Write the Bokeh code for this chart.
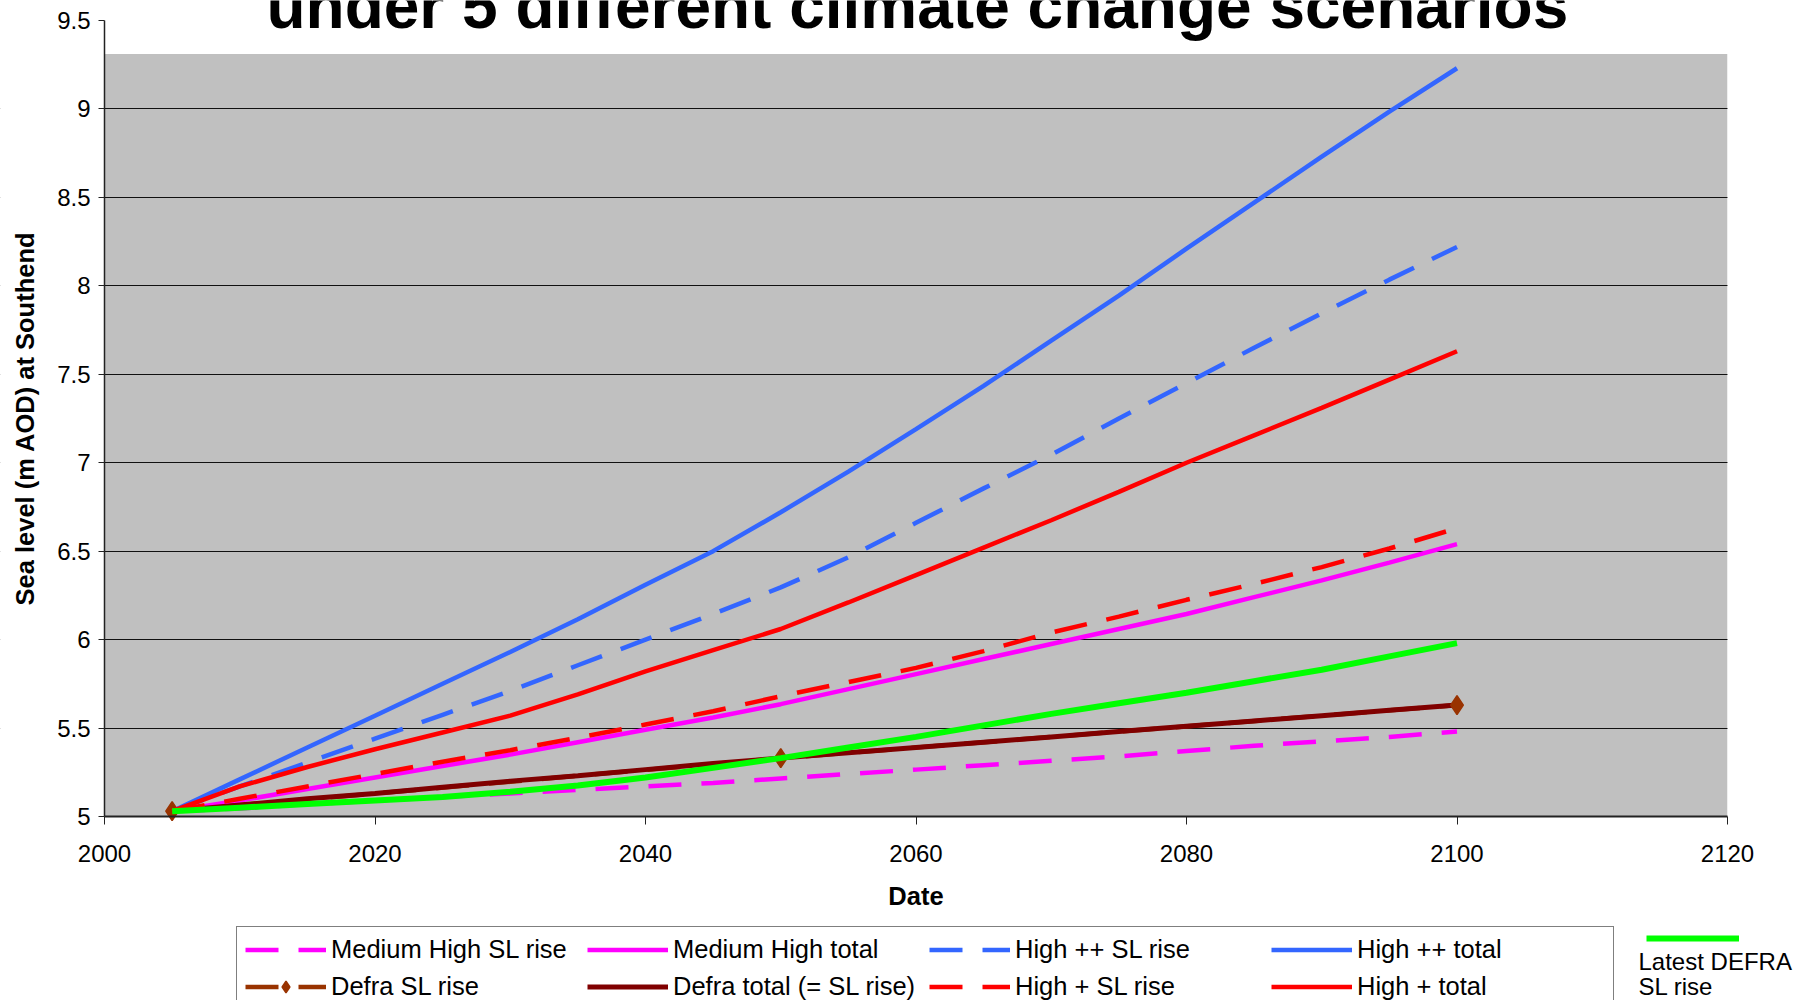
from bokeh.plotting import figure
from bokeh.models import (Range1d, FixedTicker, NumeralTickFormatter, BoxAnnotation,
                          Legend, LegendItem, Label)
from bokeh.embed import file_html
from bokeh.resources import INLINE

# ---------------- data ----------------
years = [2005, 2010, 2015, 2020, 2025, 2030, 2035, 2040, 2045, 2050,
         2055, 2060, 2065, 2070, 2075, 2080, 2085, 2090, 2095, 2100]
medium_high_sl_rise = [5.03, 5.045, 5.07, 5.09, 5.11, 5.13, 5.15, 5.17, 5.19, 5.215,
                       5.24, 5.265, 5.29, 5.315, 5.34, 5.37, 5.40, 5.425, 5.45, 5.48]
medium_high_total = [5.03, 5.09, 5.155, 5.22, 5.285, 5.35, 5.42, 5.49, 5.56, 5.635,
                     5.72, 5.805, 5.89, 5.975, 6.06, 6.145, 6.24, 6.335, 6.435, 6.54]
high_pp_sl_rise = [5.03, 5.17, 5.305, 5.44, 5.575, 5.71, 5.855, 6.00, 6.145, 6.295,
                   6.465, 6.66, 6.855, 7.045, 7.25, 7.45, 7.65, 7.845, 8.035, 8.22]
high_pp_total = [5.03, 5.21, 5.39, 5.57, 5.75, 5.93, 6.115, 6.31, 6.50, 6.72,
                 6.95, 7.19, 7.435, 7.69, 7.945, 8.21, 8.47, 8.73, 8.985, 9.23]
defra_years = [2005, 2050, 2100]
defra_sl_rise = [5.03, 5.33, 5.63]
defra_total = [5.03, 5.065, 5.10, 5.13, 5.165, 5.20, 5.23, 5.265, 5.30, 5.33,
               5.36, 5.39, 5.42, 5.45, 5.48, 5.51, 5.54, 5.57, 5.60, 5.63]
high_p_sl_rise = [5.03, 5.10, 5.17, 5.24, 5.31, 5.375, 5.445, 5.52, 5.595, 5.68,
                  5.76, 5.84, 5.935, 6.04, 6.13, 6.225, 6.315, 6.41, 6.515, 6.63]
high_p_total = [5.03, 5.17, 5.28, 5.38, 5.475, 5.57, 5.69, 5.82, 5.94, 6.06,
                6.21, 6.365, 6.52, 6.675, 6.835, 7.00, 7.155, 7.31, 7.47, 7.63]
latest_defra_sl_rise = [5.03, 5.05, 5.07, 5.09, 5.11, 5.14, 5.175, 5.22, 5.275, 5.33,
                        5.39, 5.45, 5.515, 5.58, 5.64, 5.70, 5.765, 5.83, 5.905, 5.98]

x_ticks = [2000, 2020, 2040, 2060, 2080, 2100, 2120]
y_ticks = [5, 5.5, 6, 6.5, 7, 7.5, 8, 8.5, 9, 9.5]

title_text = "under 5 different climate change scenarios"
x_label = "Date"
y_label = "Sea level (m AOD) at Southend"

FONT = "Liberation Sans"
MAGENTA = "#FF00FF"
BLUE = "#3366FF"
RED = "#FF0000"
DARKRED = "#800000"
BROWN = "#993300"
GREEN = "#00FF00"
DASH = "33 20"

# ---------------- layout (pixels on the canvas) ----------------
W, H = 1804, 1000
AX_LEFT, AX_RIGHT, AX_TOP, AX_BOTTOM = 104, 1727, 20, 816   # where 2000/2120 and 9.5/5 lie
X0, X1 = x_ticks[0], x_ticks[-1]
Y0, Y1 = y_ticks[0], y_ticks[-1]
px_x = (AX_RIGHT - AX_LEFT) / (X1 - X0)
px_y = (AX_BOTTOM - AX_TOP) / (Y1 - Y0)
xr_start, xr_end = X0 - AX_LEFT / px_x, X1 + (W - AX_RIGHT) / px_x
yr_start, yr_end = Y0 - (H - AX_BOTTOM) / px_y, Y1 + AX_TOP / px_y

# the frame covers the whole canvas so that title and legends can sit outside the axes
p = figure(width=W, height=H,
           x_range=Range1d(xr_start, xr_end), y_range=Range1d(yr_start, yr_end),
           output_backend="svg", toolbar_location=None, title=None,
           min_border=0)

p.background_fill_color = "white"
p.border_fill_color = "white"
p.outline_line_color = None

# gray plot area
p.add_layout(BoxAnnotation(left=X0, right=X1, bottom=Y0, top=9.31,
                           fill_color="#C0C0C0", fill_alpha=1.0,
                           line_color=None, level="image"))

# axes, fixed at the data origin
p.xaxis.fixed_location = Y0
p.yaxis.fixed_location = X0
p.xaxis.bounds = (X0, X1)
p.yaxis.bounds = (Y0, Y1)
p.xaxis.ticker = FixedTicker(ticks=x_ticks)
p.yaxis.ticker = FixedTicker(ticks=y_ticks)
p.xaxis.formatter = NumeralTickFormatter(format="0")
p.yaxis.formatter = NumeralTickFormatter(format="0.[0]")
p.axis.minor_tick_line_color = None
p.axis.major_tick_in = 0
p.xaxis.major_tick_out = 8
p.yaxis.major_tick_out = 6
p.axis.axis_line_color = "#222222"
p.xaxis.axis_line_width = 2
p.yaxis.axis_line_width = 1.5
p.axis.major_tick_line_color = "#222222"
p.axis.major_label_text_font = FONT
p.axis.major_label_text_font_size = "24px"
p.axis.major_label_text_color = "black"
p.xaxis.major_label_standoff = 20
p.yaxis.major_label_standoff = 8
p.xaxis.axis_label = x_label
p.yaxis.axis_label = y_label
p.axis.axis_label_text_font = FONT
p.axis.axis_label_text_font_size = "25.5px"
p.axis.axis_label_text_font_style = "bold"
p.axis.axis_label_text_color = "black"
p.xaxis.axis_label_standoff = 17
p.yaxis.axis_label_standoff = 15

# horizontal grid inside the gray area only
p.xgrid.visible = False
p.ygrid.ticker = FixedTicker(ticks=y_ticks[1:-1])
p.ygrid.grid_line_color = "#111111"
p.ygrid.grid_line_width = 1
# white margins left and right of the plot area hide the grid lines there
p.add_layout(BoxAnnotation(left=xr_start - 10, right=X0, bottom=yr_start - 1, top=yr_end + 1,
                           fill_color="white", fill_alpha=1.0,
                           line_color=None, level="underlay"))
p.add_layout(BoxAnnotation(left=X1, right=xr_end + 10, bottom=yr_start - 1, top=yr_end + 1,
                           fill_color="white", fill_alpha=1.0,
                           line_color=None, level="underlay"))

# series
r_mh_sl = p.line(years, medium_high_sl_rise, line_color=MAGENTA, line_width=4.5, line_dash=DASH)
r_mh_tot = p.line(years, medium_high_total, line_color=MAGENTA, line_width=4.5)
r_hpp_sl = p.line(years, high_pp_sl_rise, line_color=BLUE, line_width=4.5, line_dash=DASH)
r_hpp_tot = p.line(years, high_pp_total, line_color=BLUE, line_width=4.5)
r_defra_sl = p.line(defra_years, defra_sl_rise, line_color=BROWN, line_width=4.5, line_dash=DASH)
r_defra_tot = p.line(years, defra_total, line_color=DARKRED, line_width=5)
r_defra_pts = p.scatter(defra_years, defra_sl_rise, marker="diamond",
                        size=19, fill_color=BROWN, line_color=BROWN, line_width=1.5)
r_hp_sl = p.line(years, high_p_sl_rise, line_color=RED, line_width=4.5, line_dash=DASH)
r_hp_tot = p.line(years, high_p_total, line_color=RED, line_width=4.5)
r_latest = p.line(years, latest_defra_sl_rise, line_color=GREEN, line_width=6)

# title at the very top (partly cut off by the canvas edge, as in the reference)
p.add_layout(Label(x=(X0 + X1) / 2 + 0.1, y=9.58, text=title_text, text_align="center",
                   text_baseline="alphabetic", text_font=FONT,
                   text_font_size="64px", text_font_style="bold",
                   text_color="black"))

# main legend (screen positions from the canvas bottom-left)
items = [
    LegendItem(label="Medium High SL rise", renderers=[r_mh_sl]),
    LegendItem(label="Medium High total", renderers=[r_mh_tot]),
    LegendItem(label="High ++ SL rise", renderers=[r_hpp_sl]),
    LegendItem(label="High ++ total", renderers=[r_hpp_tot]),
    LegendItem(label="Defra SL rise", renderers=[r_defra_sl, r_defra_pts]),
    LegendItem(label="Defra total (= SL rise)", renderers=[r_defra_tot]),
    LegendItem(label="High + SL rise", renderers=[r_hp_sl]),
    LegendItem(label="High + total", renderers=[r_hp_tot]),
]
legend = Legend(items=items, location=(236, H - 1010), orientation="horizontal", ncols=4,
                glyph_width=81, glyph_height=29, label_height=29, label_width=248,
                label_standoff=5, spacing=8, padding=8, margin=0,
                border_line_color="black", border_line_width=1,
                background_fill_color="white", background_fill_alpha=1.0,
                label_text_font=FONT, label_text_font_size="25.5px",
                label_text_color="black")
p.add_layout(legend)

# separate legend for the latest DEFRA line
legend2 = Legend(items=[LegendItem(label=" ", renderers=[r_latest])],
                 location=(1646, H - 944), glyph_width=93, glyph_height=12,
                 label_height=12, label_width=0, label_standoff=0,
                 padding=0, margin=0, border_line_color=None,
                 background_fill_alpha=0.0, label_text_font_size="10px")
p.add_layout(legend2)

p.add_layout(Label(x=1638, y=H - 947, x_units="screen", y_units="screen",
                   text="Latest DEFRA\nSL rise", text_align="left",
                   text_baseline="top", text_font=FONT, text_font_size="24px",
                   text_line_height=0.96, text_color="black"))

open("out.html", "w").write(file_html(p, INLINE, title="Sea level at Southend"))
